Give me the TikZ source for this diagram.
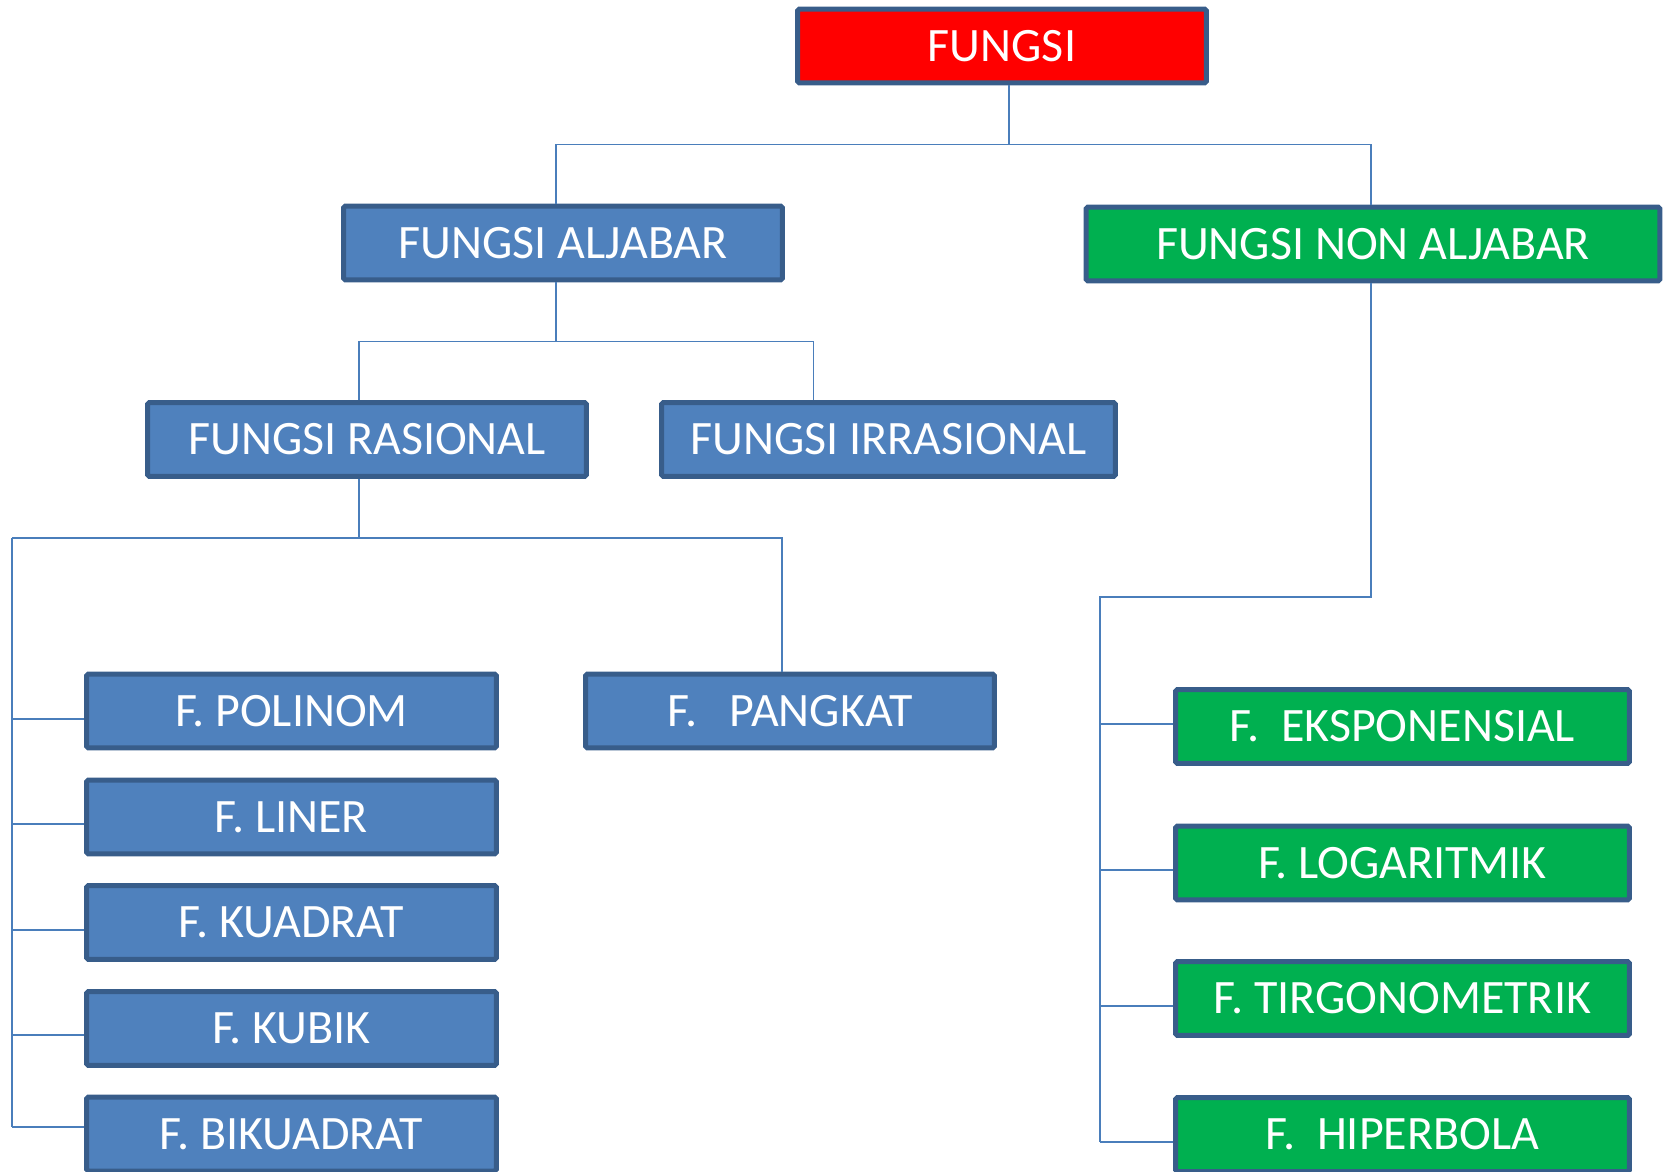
\documentclass[tikz,border=0pt]{standalone}
\usepackage{fontspec}
\setmainfont{Carlito}
\usetikzlibrary{calc, positioning}
\definecolor{boxblue}{RGB}{79,129,189}
\definecolor{edgeblue}{RGB}{56,93,138}
\definecolor{lineblue}{RGB}{74,126,187}
\definecolor{boxgreen}{RGB}{0,176,80}
\definecolor{boxred}{RGB}{255,0,0}

\begin{document}
\begin{tikzpicture}[
    x=0.02cm, y=-0.02cm,
    every node/.style={font=\fontsize{27.3}{30}\selectfont, text=white},
    fbox/.style={draw=edgeblue, line width=0.1cm, rounded corners=1pt, minimum height=1.48cm, inner sep=0pt},
    bluebox/.style={fbox, fill=boxblue},
    greenbox/.style={fbox, fill=boxgreen},
    redbox/.style={fbox, fill=boxred},
    link/.style={draw=lineblue, line width=1.1pt}
]
\useasboundingbox (0,0) rectangle (1667,1172);

\node[redbox, minimum width=8.18cm] (fungsi) at (1002,46) {FUNGSI};
\node[bluebox, minimum width=8.78cm] (aljabar) at (563,243) {FUNGSI ALJABAR};
\node[greenbox, minimum width=11.48cm] (nonaljabar) at (1373,244) {FUNGSI NON ALJABAR};
\node[bluebox, minimum width=8.78cm] (rasional) at (367,439.5) {FUNGSI RASIONAL};
\node[bluebox, minimum width=9.08cm] (irrasional) at (888.5,439.5) {FUNGSI IRRASIONAL};

\node[bluebox, minimum width=8.2cm] (polinom) at (291.5,711) {F. POLINOM};
\node[bluebox, minimum width=8.2cm] (liner) at (291.5,817) {F. LINER};
\node[bluebox, minimum width=8.2cm] (kuadrat) at (291.5,922.5) {F. KUADRAT};
\node[bluebox, minimum width=8.2cm] (kubik) at (291.5,1028.5) {F. KUBIK};
\node[bluebox, minimum width=8.2cm] (bikuadrat) at (291.5,1134) {F. BIKUADRAT};
\node[bluebox, minimum width=8.18cm] (pangkat) at (790,711) {F.\ \ \ PANGKAT};

\node[greenbox, minimum width=9.08cm] (eksponensial) at (1402.5,726.5) {F.\ \ EKSPONENSIAL};
\node[greenbox, minimum width=9.08cm] (logaritmik) at (1402.5,863) {F. LOGARITMIK};
\node[greenbox, minimum width=9.08cm] (tirgonometrik) at (1402.5,998.5) {F. TIRGONOMETRIK};
\node[greenbox, minimum width=9.08cm] (hiperbola) at (1402.5,1134.5) {F.\ \ HIPERBOLA};

% top levels
\draw[link] ($(fungsi.south)+(7,0)$) -- ++(0,59) coordinate (topbar);
\draw[link] ($(aljabar.north)+(-7,0)$) |- (topbar) -| ($(nonaljabar.north)+(-2,0)$);
\draw[link] ($(aljabar.south)+(-7,0)$) -- ++(0,59) coordinate (midbar);
\draw[link] ($(rasional.north)+(-8,0)$) |- (midbar) -| ($(irrasional.north)+(-75,0)$);

% rasional branch
\coordinate (lbus) at (12,538);
\draw[link] ($(rasional.south)+(-8,0)$) |- (lbus) -| ($(pangkat.north)+(-8,0)$);
\draw[link] (lbus) -- (12,1127);
\foreach \n/\d in {polinom/8, liner/7, kuadrat/7.5, kubik/6.5, bikuadrat/-7}
    \draw[link] ($(\n.west)+(0,\d)$) coordinate (t) -- (t -| lbus);

% non aljabar branch
\coordinate (rbus) at (1100,597);
\draw[link] ($(nonaljabar.south)+(-2,0)$) |- (rbus) -- (1100,1142);
\foreach \n/\d in {eksponensial/-2.5, logaritmik/7, tirgonometrik/7.5, hiperbola/7.5}
    \draw[link] ($(\n.west)+(0,\d)$) coordinate (t) -- (t -| rbus);

\end{tikzpicture}
\end{document}
